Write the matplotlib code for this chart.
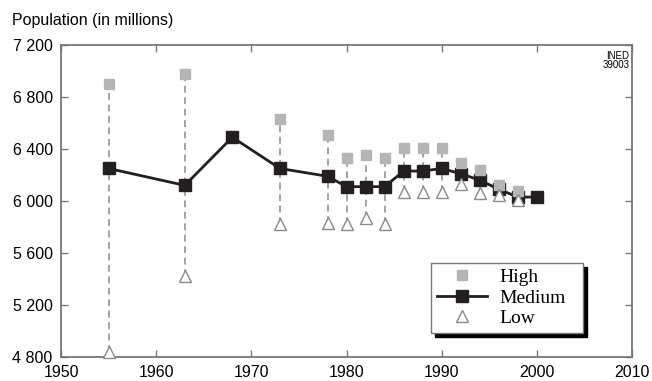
import numpy as np
import matplotlib
matplotlib.use("Agg")
import matplotlib.pyplot as plt
from matplotlib.ticker import FuncFormatter

# UN projections for world population in 2000, by year of publication
years = [1955, 1963, 1968, 1973, 1978, 1980, 1982, 1984, 1986, 1988, 1990,
         1992, 1994, 1996, 1998, 2000]
medium = [6250, 6120, 6490, 6250, 6190, 6110, 6110, 6110, 6230, 6230, 6250,
          6210, 6160, 6090, 6030, 6030]

hl_years = [1955, 1963, 1973, 1978, 1980, 1982, 1984, 1986, 1988, 1990,
            1992, 1994, 1996, 1998]
high = [6900, 6980, 6630, 6510, 6330, 6350, 6330, 6410, 6410, 6410,
        6290, 6240, 6120, 6080]
low = [4840, 5420, 5820, 5830, 5820, 5870, 5820, 6070, 6070, 6070,
       6130, 6065, 6045, 6010]

plt.rcParams['font.family'] = ['Liberation Sans', 'DejaVu Sans']

fig = plt.figure(figsize=(6.52, 3.81), dpi=100)
ax = fig.add_axes([0.0936, 0.063, 0.8758, 0.819])

dark = '#231f20'
ax.vlines(hl_years, low, high, colors='#8a8a8a', linestyles=(0, (4.5, 3)),
          linewidth=1.1, zorder=1)
ax.plot(years, medium, color=dark, lw=2, marker='s', ms=9, mfc=dark,
        mec=dark, zorder=2, label='Medium')
ax.plot(hl_years, high, ls='none', marker='s', ms=7.5, mfc='#b5b5b5',
        mec='#b5b5b5', zorder=3, label='High')
ax.plot(hl_years, low, ls='none', marker='^', ms=8, mfc='white',
        mec='#8a8a8a', mew=1, zorder=3, label='Low', clip_on=False)

ax.set_xlim(1950, 2010)
ax.set_ylim(4800, 7200)
ax.set_xticks(range(1950, 2011, 10))
ax.set_yticks(range(4800, 7201, 400))
ax.yaxis.set_major_formatter(FuncFormatter(lambda v, p: f"{int(v):,}".replace(',', ' ')))
ax.tick_params(direction='in', length=5, width=1, color='#777777',
               top=True, right=True, labelsize=11.5, pad=6, labelcolor='black')
for s in ax.spines.values():
    s.set_color('#777777')
    s.set_linewidth(1.3)

h, l = ax.get_legend_handles_labels()
order = [1, 0, 2]
leg = ax.legend([h[i] for i in order], [l[i] for i in order],
                loc='lower left', bbox_to_anchor=(0.648, 0.077, 0.266, 0.256),
                mode='expand', fancybox=False,
                shadow={'color': 'black', 'alpha': 1, 'ox': 3, 'oy': -3},
                prop={'family': 'Liberation Serif', 'size': 14},
                handlelength=2.6, handletextpad=0.6, borderpad=0.3,
                labelspacing=0.15, borderaxespad=0)
leg.get_frame().set_edgecolor('#777777')
leg.get_frame().set_linewidth(1)

ax.text(0.995, 0.98, 'INED\n39003', transform=ax.transAxes, ha='right',
        va='top', fontsize=7, linespacing=0.9)
fig.text(12 / 652, 1 - 20 / 381, 'Population (in millions)', fontsize=11.5,
         va='center', ha='left')

fig.savefig('out.png', dpi=100)
